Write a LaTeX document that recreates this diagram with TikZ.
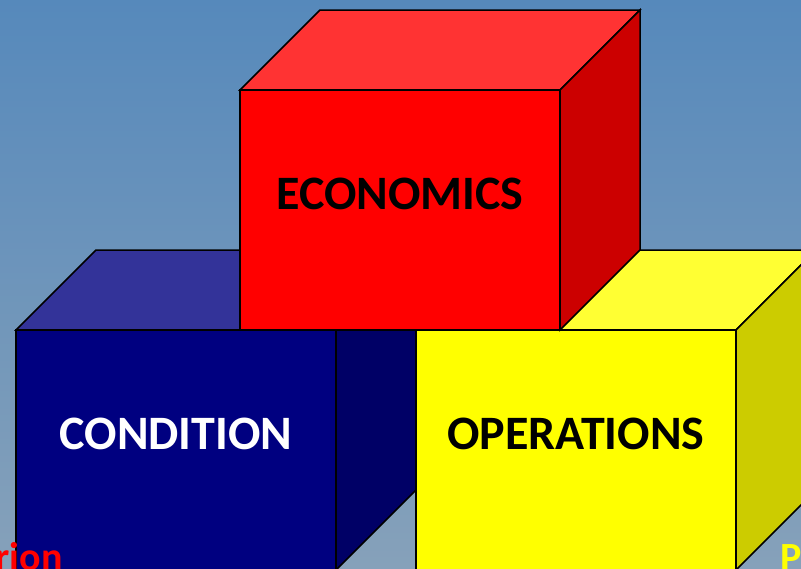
\documentclass[tikz,border=0pt]{standalone}
\usepackage{fontspec}
\setmainfont{Carlito}
\usepackage{tikz}

\definecolor{bgtop}{RGB}{86,137,187}
\definecolor{bgbot}{RGB}{134,161,186}
\definecolor{redfront}{RGB}{255,0,0}
\definecolor{redtop}{RGB}{255,51,51}
\definecolor{redside}{RGB}{204,0,0}
\definecolor{bluefront}{RGB}{0,0,128}
\definecolor{bluetop}{RGB}{51,51,153}
\definecolor{blueside}{RGB}{0,0,102}
\definecolor{yelfront}{RGB}{255,255,0}
\definecolor{yeltop}{RGB}{255,255,51}
\definecolor{yelside}{RGB}{204,204,0}

\begin{document}
\begin{tikzpicture}
  [x=1pt,y=-1pt,
   face/.style={draw=black,line width=1.5pt,line join=miter},
   cubelabel/.style={font=\bfseries\fontsize{48}{58}\selectfont,inner sep=0pt},
   edgelabel/.style={font=\bfseries\fontsize{40}{48}\selectfont,inner sep=0pt}]
  \useasboundingbox (0,0) rectangle (801,568);
  \clip (0,0) rectangle (801,568);
  \shade[top color=bgtop,bottom color=bgbot] (0,0) rectangle (801,568);

  % the three cubes: left, right, then the one on top
  \foreach \x/\y/\cf/\ct/\cs in {16/330/bluefront/bluetop/blueside,
                                 416/330/yelfront/yeltop/yelside,
                                 240/90/redfront/redtop/redside}
  {
    \filldraw[face,fill=\ct] (\x,\y) -- ++(80,-80) -- ++(320,0) -- ++(-80,80) -- cycle;
    \filldraw[face,fill=\cs] (\x+320,\y) -- ++(80,-80) -- ++(0,240) -- ++(-80,80) -- cycle;
    \filldraw[face,fill=\cf] (\x,\y) rectangle ++(320,240);
  }

  \node[cubelabel,text=black] (econ) at (400,193.5) {ECONOMICS};
  \node[cubelabel,text=white] (cond) at (176,433.5) {CONDITION};
  \node[cubelabel,text=black] (oper) at (576,433.5) {OPERATIONS};

  \node[edgelabel,text=red,anchor=base east] (lbl1) at (63,570) {rion};
  \node[edgelabel,text=yelfront,anchor=base west] (lbl2) at (780,570) {P};
\end{tikzpicture}
\end{document}
